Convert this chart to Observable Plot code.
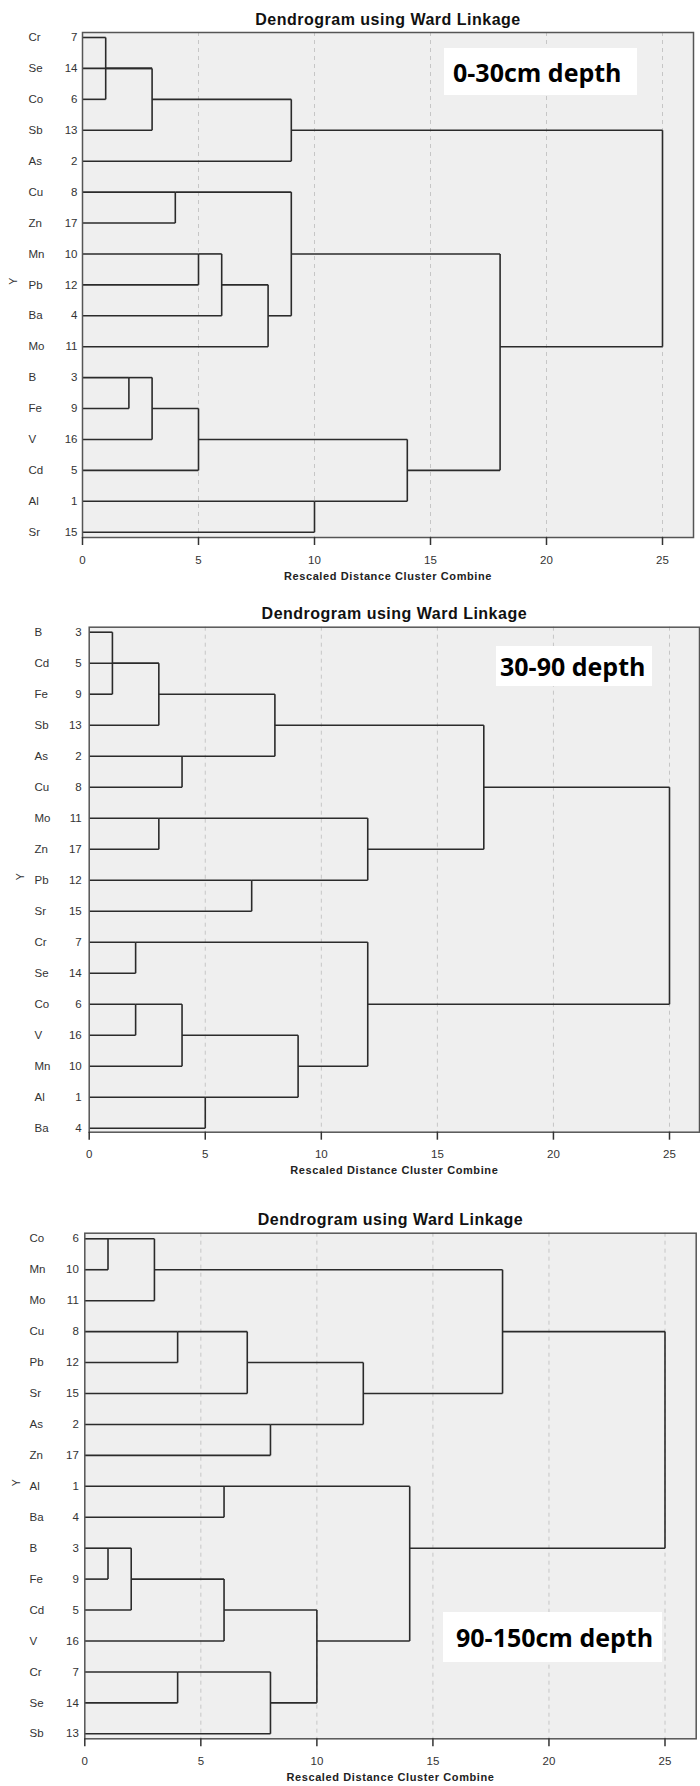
<!DOCTYPE html>
<html><head><meta charset="utf-8">
<script src="https://cdn.jsdelivr.net/npm/d3@7"></script>
<script src="https://cdn.jsdelivr.net/npm/@observablehq/plot@0.6"></script>
<style>
body{margin:0;background:#fff;}
#page{position:relative;width:700px;height:1786px;overflow:hidden;font-family:"Liberation Sans",Arial,sans-serif;}
.panel{position:absolute;left:0;}
.depth{position:absolute;background:#fff;font-family:"Open Sans",sans-serif;font-weight:700;font-size:25px;color:#000;display:flex;align-items:center;box-sizing:border-box;white-space:nowrap;}
</style></head><body><div id="page"></div>
<script>
// ---------- data ----------
const title = "Dendrogram using Ward Linkage";
const axisTitle = "Rescaled Distance Cluster Combine";
const yAxisLabel = "Y";
const xTicks = [0, 5, 10, 15, 20, 25];
const gridTicks = [5, 10, 15, 20, 25];

// 0-30cm depth
const p1Depth = "0-30cm depth";
const p1Names = ["Cr","Se","Co","Sb","As","Cu","Zn","Mn","Pb","Ba","Mo","B","Fe","V","Cd","Al","Sr"];
const p1Ids   = [7,14,6,13,2,8,17,10,12,4,11,3,9,16,5,1,15];
// [child A, child B, rescaled distance]; string = element, number = earlier merge index
const p1Merges = [
  ["Cr","Co",1],[0,"Se",3],[1,"Sb",3],[2,"As",9],
  ["Cu","Zn",4],["Mn","Pb",5],[5,"Ba",6],[6,"Mo",8],[4,7,9],
  ["B","Fe",2],[9,"V",3],[10,"Cd",5],["Al","Sr",10],[11,12,14],
  [8,13,18],[3,14,25]
];

// 30-90 depth
const p2Depth = "30-90 depth";
const p2Names = ["B","Cd","Fe","Sb","As","Cu","Mo","Zn","Pb","Sr","Cr","Se","Co","V","Mn","Al","Ba"];
const p2Ids   = [3,5,9,13,2,8,11,17,12,15,7,14,6,16,10,1,4];
const p2Merges = [
  ["B","Fe",1],[0,"Cd",3],[1,"Sb",3],["As","Cu",4],[2,3,8],
  ["Mo","Zn",3],["Pb","Sr",7],[5,6,12],[4,7,17],
  ["Cr","Se",2],["Co","V",2],[10,"Mn",4],["Al","Ba",5],[11,12,9],[9,13,12],
  [8,14,25]
];

// 90-150cm depth
const p3Depth = "90-150cm depth";
const p3Names = ["Co","Mn","Mo","Cu","Pb","Sr","As","Zn","Al","Ba","B","Fe","Cd","V","Cr","Se","Sb"];
const p3Ids   = [6,10,11,8,12,15,2,17,1,4,3,9,5,16,7,14,13];
const p3Merges = [
  ["Co","Mn",1],[0,"Mo",3],["Cu","Pb",4],[2,"Sr",7],["As","Zn",8],[3,4,12],[1,5,18],
  ["Al","Ba",6],["B","Fe",1],[8,"Cd",2],[9,"V",6],["Cr","Se",4],[11,"Sb",8],[10,12,10],[7,13,14],
  [6,14,25]
];

// ---------- layout ----------
const layouts = [
  {names:p1Names, ids:p1Ids, merges:p1Merges, depth:p1Depth,
   top:0, height:585, ml:82, mr:7, mt:32, mb:48, xRange:[82,662], yRange:[37,531.7],
   numPad:5, nameX:28, yLabX:13, box:{left:444, top:48, w:193, h:47, pad:9}},
  {names:p2Names, ids:p2Ids, merges:p2Merges, depth:p2Depth,
   top:595, height:585, ml:88.7, mr:1, mt:31.7, mb:48.3, xRange:[88.7,669], yRange:[36.7,532.7],
   numPad:7.5, nameX:34, yLabX:20, box:{left:496, top:646, w:156, h:40, pad:4}},
  {names:p3Names, ids:p3Ids, merges:p3Merges, depth:p3Depth,
   top:1200, height:586, ml:84.3, mr:4.3, mt:32.7, mb:47.7, xRange:[84.3,664.5], yRange:[38.3,533.3],
   numPad:6, nameX:29, yLabX:16.5, box:{left:443, top:1612, w:219, h:50, pad:13}}
];

function buildSegments(names, merges) {
  const nodes = [];
  const pos = m => typeof m === "string" ? {x: 0, y: names.indexOf(m)} : nodes[m];
  const segs = [];
  for (const [a, b, h] of merges) {
    const A = pos(a), B = pos(b);
    segs.push({x1: A.x, y1: A.y, x2: h, y2: A.y});
    segs.push({x1: B.x, y1: B.y, x2: h, y2: B.y});
    segs.push({x1: h, y1: A.y, x2: h, y2: B.y});
    nodes.push({x: h, y: Math.floor((A.y + B.y) / 2)});
  }
  return segs;
}

const page = document.getElementById("page");
for (const L of layouts) {
  const segs = buildSegments(L.names, L.merges);
  const rows = d3.range(L.names.length);
  const chart = Plot.plot({
    width: 700, height: L.height,
    marginLeft: L.ml, marginRight: L.mr, marginTop: L.mt, marginBottom: L.mb,
    x: {domain: [0, 25], range: L.xRange},
    y: {domain: [0, 16], range: L.yRange},
    style: {fontFamily: "'Liberation Sans', Arial, sans-serif", background: "transparent", overflow: "visible"},
    marks: [
      Plot.frame({fill: "#efefef", stroke: null}),
      Plot.ruleX(gridTicks, {stroke: "#c6c6c6", strokeWidth: 1, strokeDasharray: "4,4"}),
      Plot.link(segs, {x1: "x1", y1: "y1", x2: "x2", y2: "y2", stroke: "#2b2b2b", strokeWidth: 1.6}),
      Plot.frame({stroke: "#555", strokeWidth: 1.5, fill: null}),
      Plot.axisX(xTicks, {tickSize: 8, tickPadding: 10, fontSize: 11.5, fill: "#333", stroke: "#333", strokeWidth: 1.5, label: null}),
      Plot.axisY(rows, {tickSize: 0, tickPadding: L.numPad, fontSize: 11.5, fill: "#333", tickFormat: i => L.ids[i], label: null}),
      Plot.text(L.names, {y: (d, i) => i, frameAnchor: "left", dx: L.nameX - L.ml, textAnchor: "start", fontSize: 11.5, fill: "#333"}),
      Plot.text([yAxisLabel], {y: 8, frameAnchor: "left", dx: L.yLabX - L.ml, rotate: -90, fontSize: 10.5, fill: "#333"}),
      Plot.text([title], {frameAnchor: "top", dy: -13, lineAnchor: "middle", fontSize: 16, fontWeight: "bold", fill: "#111", style: "letter-spacing:0.5px"}),
      Plot.text([axisTitle], {frameAnchor: "bottom", dy: 38.5, lineAnchor: "middle", fontSize: 11, fontWeight: "bold", fill: "#222"})
    ]
  });
  const wrap = document.createElement("div");
  wrap.className = "panel";
  wrap.style.top = L.top + "px";
  wrap.appendChild(chart);
  page.appendChild(wrap);

  const box = document.createElement("div");
  box.className = "depth";
  box.style.left = L.box.left + "px";
  box.style.top = L.box.top + "px";
  box.style.width = L.box.w + "px";
  box.style.height = L.box.h + "px";
  box.style.paddingLeft = L.box.pad + "px";
  box.textContent = L.depth;
  page.appendChild(box);
}
// axis-title letter spacing
document.querySelectorAll("svg text").forEach(t => {
  if (t.textContent === axisTitle) t.setAttribute("letter-spacing", "0.6");
  if (t.textContent === title) t.setAttribute("letter-spacing", "0.5");
});
</script>
</body></html>
